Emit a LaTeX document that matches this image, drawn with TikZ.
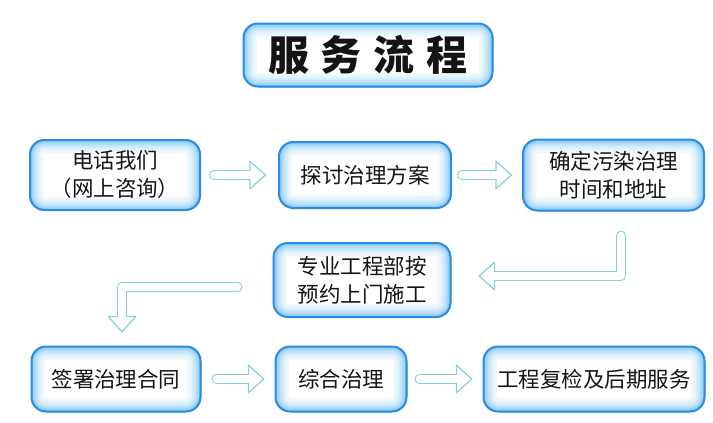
\documentclass[tikz,border=0pt]{standalone}
\usepackage{fontspec}
\newfontfamily\cjk{Noto Sans CJK SC}
\usepackage{tikz}
\usetikzlibrary{arrows.meta,positioning,calc}
\usepackage{xcolor}
\definecolor{boxblue}{HTML}{2A8DE2}
\definecolor{glowblue}{HTML}{7CC4F2}
\definecolor{arrowcyan}{HTML}{84CFDC}
\definecolor{ink}{HTML}{141414}
\tikzset{
  every node/.style={font=\cjk,text=ink},
  box/.style={draw=boxblue,line width=1pt,rounded corners=15pt,fill=white,align=center,
    font=\cjk\fontsize{21.5}{28}\selectfont,inner sep=0pt,
    path picture={
      \foreach \w/\c in {28/10,23/20,18/32,14/46,10/60,7/75,4/90}{
        \draw[line width=\w pt,draw=glowblue!\c,rounded corners=15pt]
          (path picture bounding box.south west) rectangle (path picture bounding box.north east);
      }
      \draw[line width=3pt,draw=boxblue,rounded corners=15pt]
        (path picture bounding box.south west) rectangle (path picture bounding box.north east);
      }},
  titlebox/.style={box,font=\cjk\bfseries\fontsize{41}{44}\selectfont},
  hollow/.style 2 args={line width=10pt,draw=arrowcyan,line cap=round,line join=round,
    shorten <=#1,shorten >=#2,
    -{Triangle[length=17pt,width=30pt,line width'=1.2pt,fill=white,round]},
    postaction={draw=white,line width=7.6pt,-,shorten <=#1,shorten >=#2+13pt}},
}

\begin{document}
\begin{tikzpicture}[x=1pt,y=-1pt]
\useasboundingbox[fill=white] (0,0) rectangle (713,423);

\node[titlebox,minimum width=250pt,minimum height=64pt] (title) at (368,55)
{服\hspace{12pt}务\hspace{12pt}流\hspace{12pt}程};

% first row
\node[box,minimum width=171pt,minimum height=71pt] (call) at (115,175)
{电话我们\\（网上咨询）};
\node[box,minimum width=173pt,minimum height=67pt,right=77pt of call] (discuss)
{探讨治理方案};
\node[box,minimum width=182pt,minimum height=72pt,right=70pt of discuss] (fixtime)
{确定污染治理\\时间和地址};

% second row
\node[box,minimum width=178pt,minimum height=75pt] (onsite) at (362,280)
{专业工程部按\\预约上门施工};

% third row
\node[box,minimum width=170pt,minimum height=66pt] (contract) at (116,379)
{签署治理合同};
\node[box,minimum width=132pt,minimum height=66pt,right=73pt of contract] (treat)
{综合治理};
\node[box,minimum width=222pt,minimum height=66pt,right=75pt of treat] (review)
{工程复检及后期服务};

\coordinate (bendR) at (621,276);
\coordinate (bendL) at (122,287);

\draw[hollow={13pt}{12pt}] (call) -- (discuss);
\draw[hollow={10pt}{10pt}] (discuss) -- (fixtime);
\draw[hollow={24pt}{27pt}] (bendR |- fixtime.south) -- (bendR) -- (onsite.east |- bendR);
\draw[hollow={35pt}{13pt}] (onsite.west |- bendL) -- (bendL) -- (bendL |- contract.north);
\draw[hollow={15pt}{10pt}] (contract) -- (treat);
\draw[hollow={12pt}{10pt}] (treat) -- (review);

\end{tikzpicture}
\end{document}
